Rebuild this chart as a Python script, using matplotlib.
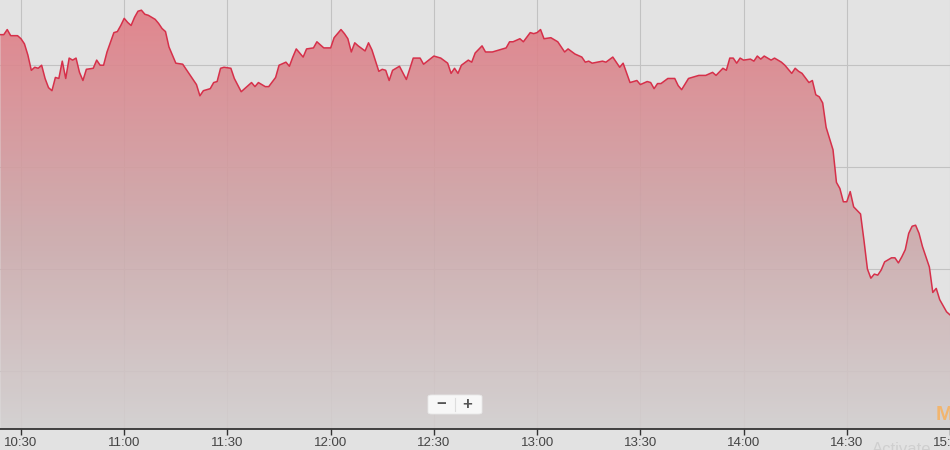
import matplotlib
matplotlib.use("Agg")
import matplotlib.pyplot as plt
import numpy as np
from matplotlib.colors import LinearSegmentedColormap
from matplotlib.patches import FancyBboxPatch, Polygon

plt.rcParams['font.family'] = ['Liberation Sans', 'DejaVu Sans']

# minute of day (10:24 .. 15:00) and index level
minutes = [624, 625, 626, 627, 629, 630, 631, 632, 633, 634, 635, 636, 637, 638, 639, 640,
           641, 642, 643, 644, 645, 646, 647, 648, 649, 651, 652, 653, 654, 655, 657, 658,
           659, 660, 661, 662, 663, 664, 665, 666, 667, 669, 670, 671, 672, 673, 675, 677,
           679, 681, 682, 683, 685, 686, 687, 688, 689, 691, 692, 694, 696, 697, 698, 699,
           701, 702, 704, 705, 707, 708, 709, 710, 712, 713, 715, 716, 718, 720, 721, 723,
           724, 725, 726, 727, 728, 730, 731, 732, 734, 735, 736, 737, 738, 740, 742, 744,
           746, 747, 750, 752, 754, 755, 756, 757, 758, 760, 761, 762, 764, 765, 767, 769,
           771, 772, 773, 775, 776, 778, 779, 780, 781, 782, 784, 786, 788, 789, 791, 793,
           794, 795, 796, 799, 800, 802, 803, 804, 805, 807, 809, 810, 812, 813, 814, 815,
           816, 818, 820, 821, 822, 824, 827, 829, 831, 832, 834, 835, 836, 837, 838, 839,
           840, 842, 843, 844, 845, 846, 847, 848, 849, 851, 852, 854, 855, 856, 857, 859,
           860, 861, 862, 863, 864, 866, 867, 868, 869, 870, 871, 872, 874, 875, 876, 877,
           878, 879, 880, 881, 883, 884, 885, 886, 887, 888, 889, 890, 891, 892, 894, 895,
           896, 897, 899, 900]

level = [2333.0, 2333.0, 2333.5, 2332.9, 2332.9, 2332.6, 2332.1, 2331.0, 2329.5, 2329.8,
         2329.7, 2330.0, 2328.7, 2327.8, 2327.5, 2328.8, 2328.7, 2330.4, 2328.7, 2330.7,
         2330.5, 2330.7, 2329.3, 2328.5, 2329.6, 2329.7, 2330.5, 2330.0, 2330.0, 2331.3,
         2333.2, 2333.3, 2333.9, 2334.6, 2334.2, 2333.9, 2334.7, 2335.3, 2335.4, 2335.0,
         2334.9, 2334.5, 2334.1, 2333.6, 2333.3, 2331.8, 2330.2, 2330.1, 2329.1, 2328.1,
         2327.0, 2327.5, 2327.7, 2328.3, 2328.4, 2329.7, 2329.8, 2329.7, 2328.7, 2327.4,
         2328.0, 2328.3, 2327.9, 2328.3, 2327.9, 2327.9, 2328.8, 2330.0, 2330.3, 2329.9,
         2330.8, 2331.6, 2330.8, 2331.6, 2331.7, 2332.3, 2331.7, 2331.7, 2332.7, 2333.5,
         2333.1, 2332.6, 2331.3, 2332.2, 2331.9, 2331.4, 2332.2, 2331.5, 2329.4, 2329.6,
         2329.5, 2328.5, 2329.5, 2329.9, 2328.6, 2330.7, 2330.7, 2330.1, 2330.9, 2330.7,
         2330.2, 2329.2, 2329.7, 2329.2, 2330.0, 2330.5, 2330.3, 2331.2, 2331.9, 2331.3,
         2331.3, 2331.5, 2331.7, 2332.3, 2332.3, 2332.6, 2332.3, 2333.2, 2333.1, 2333.2,
         2333.5, 2332.6, 2332.7, 2332.3, 2331.3, 2331.6, 2331.1, 2330.8, 2330.3, 2330.4,
         2330.2, 2330.4, 2330.3, 2330.8, 2330.3, 2329.8, 2330.2, 2328.3, 2328.5, 2328.1,
         2328.4, 2328.3, 2327.7, 2328.2, 2328.2, 2328.7, 2328.7, 2328.0, 2327.6, 2328.7,
         2329.0, 2329.0, 2329.3, 2329.0, 2329.7, 2329.5, 2330.7, 2330.7, 2330.2, 2330.7,
         2330.5, 2330.6, 2330.4, 2330.9, 2330.6, 2330.9, 2330.7, 2330.5, 2330.7, 2330.3,
         2330.0, 2329.2, 2329.7, 2329.4, 2329.2, 2328.3, 2328.5, 2327.1, 2326.9, 2326.3,
         2323.9, 2321.7, 2318.5, 2317.9, 2316.6, 2316.6, 2317.6, 2316.1, 2315.4, 2312.8,
         2310.0, 2309.1, 2309.5, 2309.4, 2309.9, 2310.7, 2311.1, 2311.1, 2310.6, 2311.2,
         2311.9, 2313.5, 2314.2, 2314.3, 2313.5, 2312.2, 2310.2, 2307.7, 2308.1, 2307.0,
         2305.8, 2305.5]

tick_minutes = [630, 660, 690, 720, 750, 780, 810, 840, 870, 900]
tick_labels = ["10:30", "11:00", "11:30", "12:00", "12:30", "13:00", "13:30", "14:00", "14:30", "15:00"]
grid_levels = [2300, 2310, 2320, 2330]

x = np.array(minutes, dtype=float)
y = np.array(level)

fig = plt.figure(figsize=(9.5, 4.5), dpi=100)
fig.patch.set_facecolor("#e2e2e2")
ax = fig.add_axes([0, 21 / 450, 1, 1 - 21 / 450])
ax.set_facecolor("#e3e3e3")

x0, x1 = 623.9, 900
y0, y1 = 2294.3, 2336.4
ax.set_xlim(x0, x1)
ax.set_ylim(y0, y1)

ax.set_xticks(tick_minutes)
ax.set_xticklabels(tick_labels)
ax.set_yticks(grid_levels)
ax.grid(True, color="#c2c2c2", lw=0.8)
ax.set_axisbelow(True)

# gradient area under the line, slightly see-through so the grid shows
cmap = LinearSegmentedColormap.from_list(
    "fill", [(0.0, "#d3d0d0"), (0.45, "#cca9ab"), (1.0, "#e27a83")])
grad = np.linspace(0, 1, 256).reshape(-1, 1)
img = ax.imshow(grad, cmap=cmap, origin="lower", aspect="auto",
                extent=[x0, x1, y0, y1], zorder=1, alpha=0.9)
verts = np.column_stack([np.r_[x[0], x, x[-1]], np.r_[y0, y, y0]])
clip = Polygon(verts, closed=True, transform=ax.transData, facecolor="none", edgecolor="none")
ax.add_patch(clip)
img.set_clip_path(clip)

ax.plot(x, y, color="#d6304a", lw=1.1, zorder=3)

ax.tick_params(axis="x", direction="out", length=4, width=1, color="#333333",
               labelsize=9.5, labelcolor="#444444", pad=2)
ax.tick_params(axis="y", left=False, labelleft=False)
for side in ["top", "left", "right"]:
    ax.spines[side].set_visible(False)
ax.spines["bottom"].set_color("#333333")
ax.spines["bottom"].set_linewidth(1.3)
ax.spines["bottom"].set_zorder(4)

# zoom buttons
btn = FancyBboxPatch((428 / 950, 1 - 414 / 450), 54 / 950, 19 / 450,
                     boxstyle="round,pad=0,rounding_size=0.004",
                     transform=fig.transFigure, facecolor="#f7f7f7",
                     edgecolor="#e8e8e8", lw=0.6, zorder=5)
fig.add_artist(btn)
fig.add_artist(plt.Line2D([455 / 950, 455 / 950], [1 - 411 / 450, 1 - 398 / 450],
                          transform=fig.transFigure, color="#dddddd", lw=0.8, zorder=6))
fig.text(441 / 950, 1 - 405 / 450, "\u2212", ha="center", va="center",
         fontsize=12, color="#555555", fontweight="bold", zorder=7)
fig.text(467 / 950, 1 - 405 / 450, "+", ha="center", va="center",
         fontsize=12, color="#555555", fontweight="bold", zorder=7)

fig.text(936 / 950, 1 - 414 / 450, "M", ha="left", va="center",
         fontsize=15, color="#f2b56e", fontweight="bold")
fig.text(872 / 950, 1 - 450 / 450, "Activate", ha="left", va="center",
         fontsize=12, color="#cfcfcf")

fig.savefig("out.png", dpi=100, facecolor=fig.get_facecolor())
